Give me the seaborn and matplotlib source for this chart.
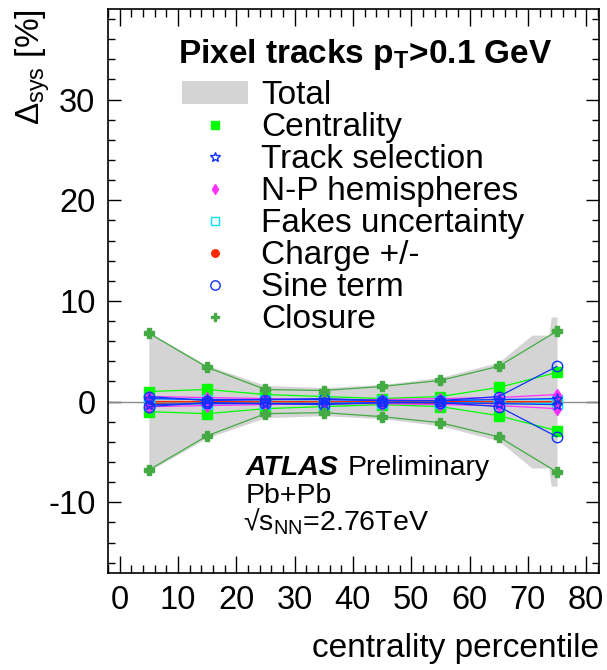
import numpy as np
import pandas as pd
import matplotlib
matplotlib.use('Agg')
import matplotlib.pyplot as plt
import seaborn as sns
from matplotlib.lines import Line2D
from matplotlib.patches import Patch
from matplotlib.ticker import MultipleLocator

# centrality bins (bin centres) and systematic components, symmetric +/- [%]
cent = [5, 15, 25, 35, 45, 55, 65, 75]
centrality = [1.0, 1.2, 0.7, 0.5, 0.3, 0.5, 1.4, 2.9]
track_sel = [0.3, 0.2, 0.2, 0.2, 0.1, 0.1, 0.2, 0.3]
np_hemi = [0.5, 0.4, 0.3, 0.2, 0.2, 0.3, 0.4, 0.7]
fakes = [0.3, 0.2, 0.2, 0.2, 0.1, 0.1, 0.2, 0.2]
charge = [0.1, 0.1, 0.1, 0.1, 0.1, 0.1, 0.1, 0.1]
sine = [0.5, 0.1, 0.2, 0.3, 0.1, 0.1, 0.5, 3.5]
closure = [6.8, 3.4, 1.2, 1.1, 1.5, 2.1, 3.5, 7.0]

# total band outline
band_x = [5, 15, 25, 35, 45, 55, 65, 70.7, 73.6, 74.0, 75]
band_hi = [6.9, 3.6, 1.6, 1.4, 1.7, 2.4, 3.9, 6.6, 6.6, 8.4, 8.4]

names = ['Centrality', 'Track selection', 'N-P hemispheres', 'Fakes uncertainty',
         'Charge +/-', 'Sine term', 'Closure']
values = [centrality, track_sel, np_hemi, fakes, charge, sine, closure]

rows = []
for name, vals in zip(names, values):
    for sign, side in [(1, 'up'), (-1, 'down')]:
        for c, v in zip(cent, vals):
            rows.append({'source': name, 'side': side, 'cent': c, 'val': sign * v})
df = pd.DataFrame(rows)

# name: (line colour, marker, face, edge, size)
styles = {
    'Centrality':        ('#00ff00', 's', '#00ff00', '#00ff00', 7),
    'Track selection':   ('#1030ff', '*', 'none', '#1030ff', 8),
    'N-P hemispheres':   ('#ff30ff', 'd', '#ff30ff', '#ff30ff', 6),
    'Fakes uncertainty': ('#00ffff', 's', 'none', '#00e0ff', 7),
    'Charge +/-':        ('#ff2a00', 'o', '#ff2a00', '#ff2a00', 6),
    'Sine term':         ('#1030ff', 'o', 'none', '#1030ff', 7.5),
    'Closure':           ('#44aa44', 'P', '#44aa44', '#44aa44', 7),
}
draw_order = ['Charge +/-', 'Centrality', 'Fakes uncertainty', 'N-P hemispheres',
              'Track selection', 'Sine term', 'Closure']

sns.set_style('ticks')
plt.rcParams['font.family'] = ['Liberation Sans', 'DejaVu Sans']
plt.rcParams['mathtext.fontset'] = 'custom'
plt.rcParams['mathtext.rm'] = 'Liberation Sans'
plt.rcParams['mathtext.it'] = 'Liberation Sans:italic'
plt.rcParams['mathtext.bf'] = 'Liberation Sans:bold'
plt.rcParams['axes.unicode_minus'] = False
for k in ['text.color', 'axes.labelcolor', 'xtick.color', 'ytick.color']:
    plt.rcParams[k] = 'black'

fig = plt.figure(figsize=(6.07, 6.70), dpi=100)
ax = fig.add_axes([108 / 607, (670 - 572.7) / 670, 491 / 607, 563.7 / 670])

band_col = '#d4d4d4'
ax.fill_between(band_x, [-v for v in band_hi], band_hi, color=band_col, lw=0, zorder=1)
ax.axhline(0, color='#8c8c8c', lw=1, zorder=1.5)

for name in draw_order:
    lc, m, fc, ec, ms = styles[name]
    sns.lineplot(data=df[df['source'] == name], x='cent', y='val', units='side',
                 estimator=None, color=lc, lw=0.9, marker=m, markersize=ms,
                 markerfacecolor=fc, markeredgecolor=ec, markeredgewidth=1.0,
                 legend=False, ax=ax, zorder=3)

ax.set_xlim(-2, 82.2)
ax.set_ylim(-17, 39)
ax.xaxis.set_major_locator(MultipleLocator(10))
ax.xaxis.set_minor_locator(MultipleLocator(2))
ax.yaxis.set_major_locator(MultipleLocator(10))
ax.yaxis.set_minor_locator(MultipleLocator(2))
ax.tick_params(which='both', direction='in', top=True, right=True,
               labelsize=23.5, width=1, color='black', labelcolor='black')
ax.tick_params(axis='x', which='major', length=12, pad=9)
ax.tick_params(axis='x', which='minor', length=6)
ax.tick_params(axis='y', which='major', length=9.5, pad=9)
ax.tick_params(axis='y', which='minor', length=5)
for s in ax.spines.values():
    s.set_linewidth(1.2)
    s.set_color('black')

ax.set_xlabel('centrality percentile', fontsize=24, loc='right', color='black')
ax.xaxis.set_label_coords(1.0, -0.107)
ax.set_ylabel(r'$\Delta_{\mathrm{sys}}$ [%]', fontsize=24, loc='top', color='black')
ax.yaxis.set_label_coords(-0.114, 1.0)

ax.text(0.143, 0.904, r'Pixel tracks p$_{\mathbf{T}}$>0.1 GeV', transform=ax.transAxes,
        fontsize=24, fontweight='bold', va='baseline')

handles = [Patch(facecolor=band_col, edgecolor='none')]
for name in names:
    lc, m, fc, ec, ms = styles[name]
    handles.append(Line2D([], [], ls='none', marker=m, markersize=ms * 0.9,
                          markerfacecolor=fc, markeredgecolor=ec, markeredgewidth=1.0))
leg = ax.legend(handles, ['Total'] + names, loc='upper left',
                bbox_to_anchor=(0.15, 0.874), frameon=False, fontsize=24,
                labelspacing=0.03, handlelength=2.0,
                handleheight=0.66, handletextpad=0.38, borderpad=0, borderaxespad=0)
for t in leg.get_texts():
    t.set_color('black')

ax.text(0.2795, 0.173, 'ATLAS', transform=ax.transAxes, fontsize=20.5,
        fontweight='bold', fontstyle='italic', va='baseline')
ax.text(0.489, 0.173, 'Preliminary', transform=ax.transAxes, fontsize=20.5, va='baseline')
ax.text(0.2795, 0.124, 'Pb+Pb', transform=ax.transAxes, fontsize=20.5, va='baseline')
ax.text(0.275, 0.074, '\u221as$_{\\mathrm{NN}}$=2.76TeV', transform=ax.transAxes,
        fontsize=20.5, va='baseline')

fig.savefig('out.png', dpi=100)
